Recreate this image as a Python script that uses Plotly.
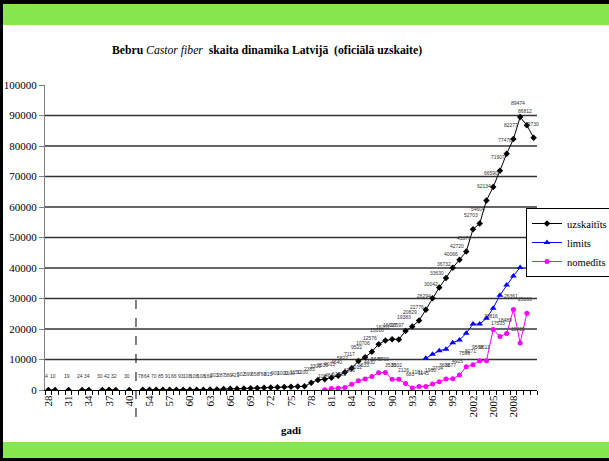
import plotly.graph_objects as go

# ---------------- data ----------------
GAP = " "
cats_prewar = [str(y) for y in range(28, 41)]
cats_post = [str(y) for y in range(53, 100)] + [str(y) for y in range(2000, 2012)]
categories = cats_prewar + [GAP] + cats_post

# uzskaitīts (counted)
counted_prewar = [4, 10, None, 19, None, 24, 34, None, 30, 42, 32, None, 30]
counted_post = [78, 64, 70, 85, 91, 66, 93, 108, 108, 108, 160, 203, 287, 380, 421, 502, 590, 658,
                760, 815, 900, 1000, 1100, 1150, 1200,
                2385, 3309, 3530, 4013, 4640, 5822, 7117, 9522, 10706, 12576, 15016, 16201, 16617,
                16597, 19383, 20829, 22776, 26294, 30042, 33630, 36732, 40066, 42720, 45371,
                52703, 54604, 62134, 66590, 71907, 77476, 82277, 89474, 86812, 82730]
counted = counted_prewar + [None] + counted_post

# limits (quota)
limit_years = [str(y) for y in range(95, 100)] + [str(y) for y in range(2000, 2010)]
limit_vals = [10400, 11700, 12900, 13400, 15500, 16400, 18600, 21600, 21600, 23500,
              26800, 31100, 34400, 37400, 40200]

# nomedīts (hunted)
hunted_years = [str(y) for y in range(80, 100)] + [str(y) for y in range(2000, 2011)]
hunted_vals = [108, 484, 610, 820, 1900, 3012, 3633, 4430, 5644, 5700, 3530, 3502, 2126,
               681, 1181, 1145, 1960, 2704, 3602, 3677, 4925, 7599, 8271, 9568, 9611,
               19816, 17533, 18489, 26361, 15436, 25166]

y_ticks = list(range(0, 100001, 10000))
grid_vals = y_ticks[1:-1]

# ---------------- geometry helpers ----------------
W, H = 609, 461
L, R, T, B = 45, 537, 85, 390


def px_x(px):
    return (px - L) / (R - L)


def px_y(py):
    return (B - py) / (B - T)


SERIF = "Liberation Serif"

fig = go.Figure()

fig.add_trace(go.Scatter(
    x=categories, y=counted, name="uzskaitīts", mode="lines+markers",
    line=dict(color="black", width=1), marker=dict(symbol="diamond", size=5, color="black"),
    connectgaps=False))
fig.add_trace(go.Scatter(
    x=limit_years, y=limit_vals, name="limits", mode="lines+markers",
    line=dict(color="#0000FF", width=1), marker=dict(symbol="triangle-up", size=6, color="#0000FF")))
fig.add_trace(go.Scatter(
    x=hunted_years, y=hunted_vals, name="nomedīts", mode="lines+markers",
    line=dict(color="#FF00FF", width=1), marker=dict(symbol="circle", size=5, color="#FF00FF")))

annotations = []
lab_font = dict(family="Liberation Sans", size=5, color="#333333")
for c, v in zip(categories, counted):
    if v is not None:
        annotations.append(dict(x=categories.index(c), y=v, xref="x", yref="y", text=str(v),
                                showarrow=False, yshift=14, xshift=-2, font=lab_font))
for c, v in zip(hunted_years, hunted_vals):
    annotations.append(dict(x=categories.index(c), y=v, xref="x", yref="y", text=str(v),
                            showarrow=False, yshift=14, xshift=-2, font=lab_font))

annotations.append(dict(
    x=px_x(267), y=px_y(50), xref="paper", yref="paper", showarrow=False,
    xanchor="center", yanchor="middle",
    text="<b>Bebru </b><i>Castor fiber</i><b>  skaita dinamika Latvijā  (oficiālā uzskaite)</b>",
    font=dict(family=SERIF, size=11.7, color="black")))
annotations.append(dict(
    x=px_x(291), y=px_y(430), xref="paper", yref="paper", showarrow=False,
    xanchor="center", yanchor="middle",
    text="<b>gadi</b>", font=dict(family=SERIF, size=11, color="black")))

shapes = []


def rect(x0, y0, x1, y1, color):
    return dict(type="rect", xref="paper", yref="paper", x0=px_x(x0), x1=px_x(x1),
                y0=px_y(y1), y1=px_y(y0), fillcolor=color, line=dict(width=0), layer="below")


shapes.append(rect(0, 0, W, 4, "black"))
shapes.append(rect(0, 0, 3, H, "black"))
shapes.append(rect(3, 4, W, 25, "#86E84E"))
shapes.append(rect(3, 442, W, 458, "#86E84E"))
shapes.append(rect(0, 458, W, H, "black"))

for v in grid_vals:
    shapes.append(dict(type="line", xref="paper", yref="y", x0=0, x1=1, y0=v, y1=v,
                       line=dict(color="#333333", width=1.3), layer="below"))

gap_idx = categories.index(GAP)
shapes.append(dict(type="line", xref="x", yref="paper", x0=gap_idx, x1=gap_idx,
                   y0=px_y(417), y1=0.3, line=dict(color="black", width=1, dash="dash")))

ticktext = [c if (i % 3 == 0 and i < len(categories) - 1) else "" for i, c in enumerate(categories)]

fig.update_layout(
    width=W, height=H,
    margin=dict(l=L, r=W - R, t=T, b=H - B, autoexpand=False),
    paper_bgcolor="white", plot_bgcolor="white",
    showlegend=True,
    legend=dict(x=px_x(526), y=px_y(208), xanchor="left", yanchor="top",
                bgcolor="white", bordercolor="black", borderwidth=1,
                font=dict(family=SERIF, size=10.5, color="black"),
                itemwidth=30, tracegroupgap=0),
    annotations=annotations,
    shapes=shapes,
    xaxis=dict(type="category", categoryorder="array", categoryarray=categories,
               tickmode="array", tickvals=categories, ticktext=ticktext,
               tickson="boundaries", ticks="outside", ticklen=4, tickcolor="black",
               showline=True, linecolor="black", linewidth=1, showgrid=False,
               tickangle=-90, tickfont=dict(family=SERIF, size=11, color="black"),
               range=[-0.5, len(categories) - 0.5]),
    yaxis=dict(range=[0, 100000], tickmode="array", tickvals=y_ticks,
               ticktext=[str(v) for v in y_ticks],
               ticks="outside", ticklen=5, tickcolor="#808080",
               showline=True, linecolor="#808080", linewidth=1,
               showgrid=False, zeroline=False,
               tickfont=dict(family=SERIF, size=11, color="black")),
)

fig.write_html("out.html", config={"displayModeBar": False},
               post_script="document.body.style.margin='0';")
